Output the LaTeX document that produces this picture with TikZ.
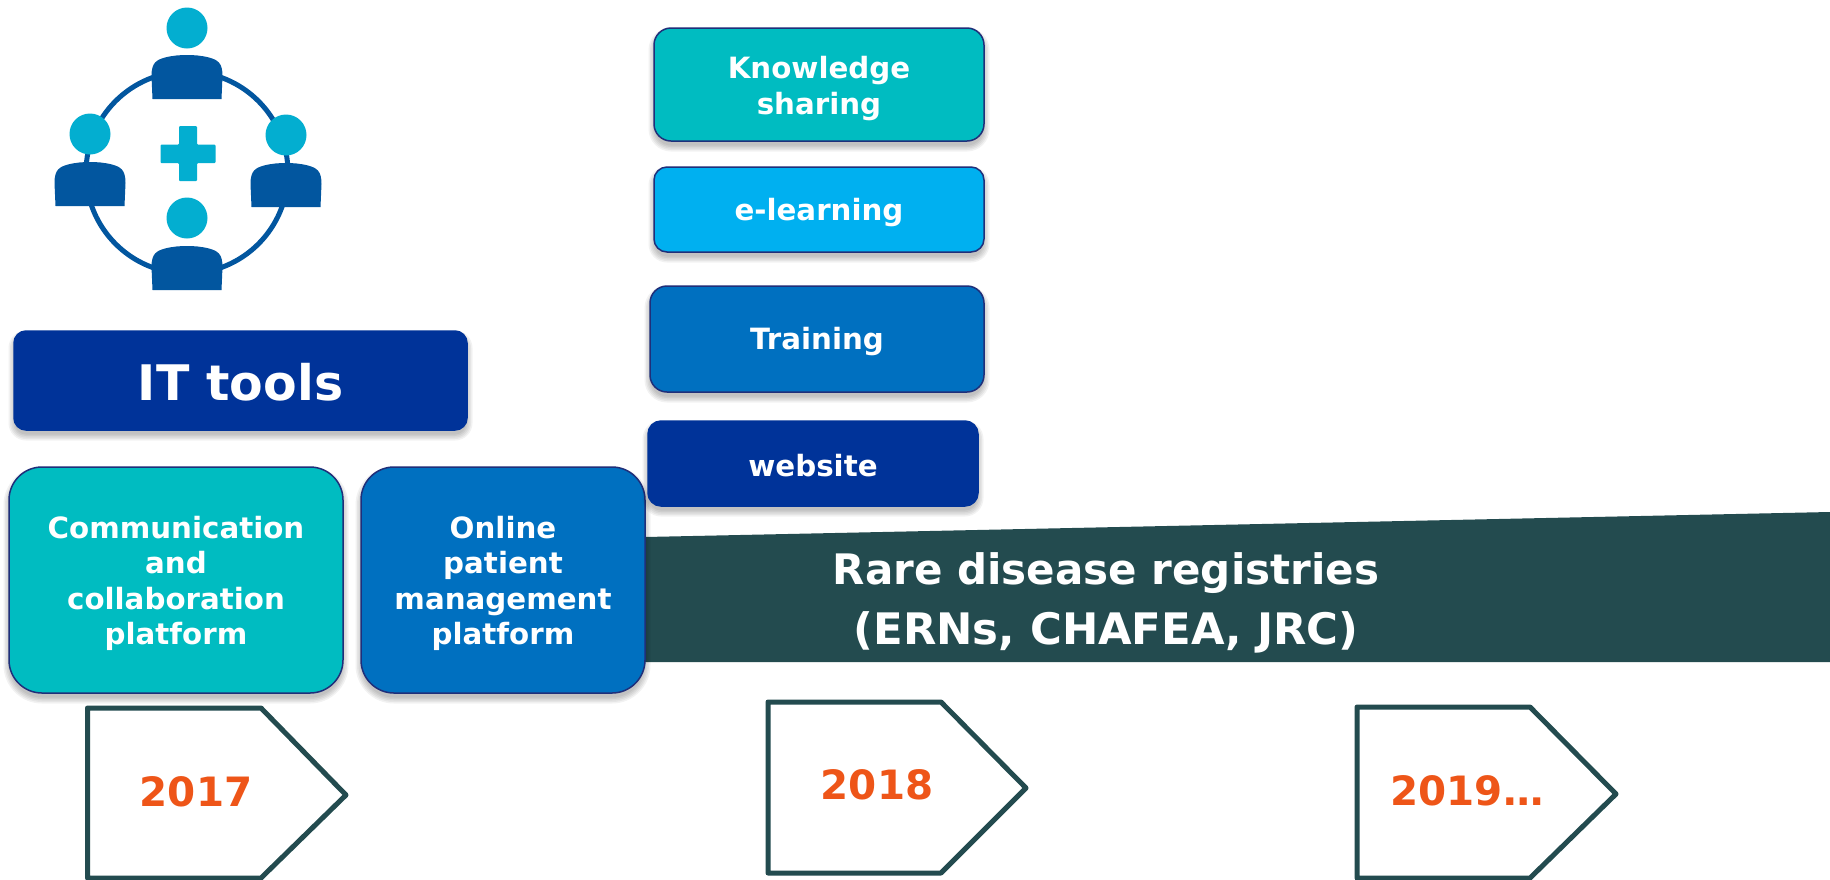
\documentclass[tikz,border=0pt]{standalone}
\usepackage{fontspec}
\setmainfont{DejaVu Sans}
\definecolor{tealbox}{HTML}{00BCC1}
\definecolor{skybox}{HTML}{00B0F0}
\definecolor{midbox}{HTML}{0070C0}
\definecolor{navybox}{HTML}{003399}
\definecolor{edgeblue}{HTML}{1F2F7A}
\definecolor{bandcol}{HTML}{234B4F}
\definecolor{yearcol}{HTML}{EE5518}
\definecolor{icondark}{HTML}{02569F}
\definecolor{iconlight}{HTML}{03AED0}
\tikzset{
  x=1pt,y=-1pt,
  boxbase/.style={rectangle,inner sep=0pt,outer sep=0pt,draw=edgeblue,line width=1.5pt},
  boxtext/.style={inner sep=0pt,align=center,text=white,font=\fontsize{29.3}{35.4}\selectfont\bfseries},
  softlayer/.style={fill=black,fill opacity=0.05},
  yearbox/.style={draw=bandcol,line width=5pt,fill=white,line join=round},
  yeartext/.style={text=yearcol,font=\fontsize{40.4}{48}\selectfont\bfseries,inner sep=0pt},
  bandtext/.style={text=white,align=center,inner sep=0pt,font=\fontsize{42}{59.5}\selectfont\bfseries},
  ring/.style={draw=icondark,line width=5pt},
  bodyshape/.style={fill=icondark},
  headshape/.style={fill=iconlight},
}
% soft shadow under a box: left, top, right, bottom, corner radius
\newcommand{\softshadow}[5]{%
  \foreach \s in {5.5,4,2.5,1,-0.5}{%
    \pgfmathsetmacro{\rr}{max(#5+\s,1)}%
    \fill[softlayer,rounded corners=\rr pt] (#1-\s,#2-\s+5) rectangle (#3+\s,#4+\s+5);
  }}
\newcommand{\personicon}[3]{%
  \fill[headshape] (#1,#3) circle[radius=20.5];
  \begin{scope}[shift={(#1,#2)}]
    \fill[bodyshape] (-34.5,44) -- (-35.5,21) .. controls (-35.5,8) and (-31,5) .. (-22,2.5)
      .. controls (-14,0.5) and (-7,0) .. (0,0) .. controls (7,0) and (14,0.5) .. (22,2.5)
      .. controls (31,5) and (35.5,8) .. (35.5,21) -- (34.5,44) -- cycle;
  \end{scope}}
\begin{document}
\begin{tikzpicture}
\useasboundingbox (0,0) rectangle (1830,879);
\fill[white] (0,0) rectangle (1830,879);
% band
\fill[bandcol] (645,537) -- (1830,512) -- (1830,662) -- (645,662) -- cycle;
\node[bandtext] (band) at (1106,603) {Rare disease registries\\{\fontsize{43.4}{59.5}\selectfont (ERNs, CHAFEA, JRC)}};
% icon
\draw[ring] (187,172.5) circle[radius=101];
\personicon{187}{55}{28}
\personicon{90}{162}{134}
\personicon{286}{163}{135}
\personicon{187}{246}{218}
\fill[iconlight,rounded corners=1pt] (179,126) -- (197,126) -- (197,144.5) -- (215.5,144.5) -- (215.5,163) -- (197,163) -- (197,181) -- (179,181) -- (179,163) -- (160.5,163) -- (160.5,144.5) -- (179,144.5) -- cycle;
% boxes
\softshadow{14}{331}{467}{430}{12}
\node[boxbase,fill=navybox,draw=navybox,rounded corners=12pt,minimum width=453pt,minimum height=99pt,
  label={[boxtext,yshift=-2pt,font=\fontsize{49}{58}\selectfont\bfseries]center:IT tools}] (ittools) at (240.5,380.5) {};
\softshadow{9}{467}{343}{693}{33}
\node[boxbase,fill=tealbox,rounded corners=33pt,minimum width=334pt,minimum height=226pt,
  label={[boxtext,yshift=-3.5pt]center:{Communication\\and\\collaboration\\platform}}] (comm) at (176,580) {};
\softshadow{361}{467}{645}{693}{33}
\node[boxbase,fill=midbox,rounded corners=33pt,minimum width=284pt,minimum height=226pt,
  label={[boxtext,yshift=-3.5pt]center:{Online\\patient\\management\\platform}}] (online) at (503,580) {};
\softshadow{654}{28}{984}{141}{17}
\node[boxbase,fill=tealbox,rounded corners=17pt,minimum width=330pt,minimum height=113pt,
  label={[boxtext,yshift=-4pt]center:{Knowledge\\sharing}}] (know) at (819,84.5) {};
\softshadow{654}{167}{984}{252}{13}
\node[boxbase,fill=skybox,rounded corners=13pt,minimum width=330pt,minimum height=85pt,
  label={[boxtext,yshift=-3pt]center:e-learning}] (elearn) at (819,209.5) {};
\softshadow{650}{286}{984}{392}{17}
\node[boxbase,fill=midbox,rounded corners=17pt,minimum width=334pt,minimum height=106pt,
  label={[boxtext,yshift=-3pt]center:Training}] (train) at (817,339) {};
\softshadow{648}{421}{978}{506}{13}
\node[boxbase,fill=navybox,draw=navybox,rounded corners=13pt,minimum width=330pt,minimum height=85pt,
  label={[boxtext,yshift=-2pt]center:website}] (web) at (813,463.5) {};
% year arrows
\draw[yearbox] (87.5,708) -- (261,708) -- (346,795) -- (261,878) -- (87.5,878) -- cycle;
\node[yeartext] (y2017) at (196,792) {2017};
\draw[yearbox] (768,702) -- (941,702) -- (1026,788) -- (941,873) -- (768,873) -- cycle;
\node[yeartext] (y2018) at (877,785) {2018};
\draw[yearbox] (1357,707) -- (1530,707) -- (1616,794) -- (1530,878) -- (1357,878) -- cycle;
\node[yeartext] (y2019) at (1467,791) {2019…};
\end{tikzpicture}
\end{document}
